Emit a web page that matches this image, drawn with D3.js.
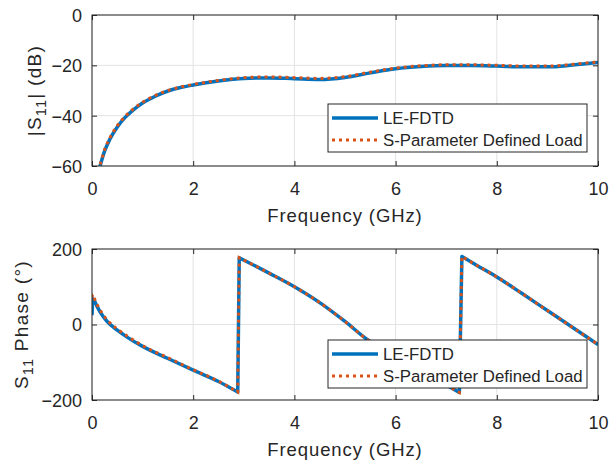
<!DOCTYPE html>
<html>
<head>
<meta charset="utf-8">
<script src="https://cdn.jsdelivr.net/npm/d3@7"></script>
<style>
  body { margin: 0; background: #fff; }
  svg { display: block; }
  text { font-family: "Liberation Sans", Arial, sans-serif; fill: #262626; }
</style>
</head>
<body>
<svg></svg>
<script>
const width = 610;
const height = 462;
const svg = d3.select("svg").attr("width", width).attr("height", height);

// magnitude data (GHz, dB)
const magFreq = [0.12, 0.16, 0.25, 0.35, 0.5, 0.65, 0.8, 1.0, 1.25, 1.5, 1.75, 2.0, 2.5, 3.0, 3.5, 4.0, 4.5, 5.0, 5.5, 6.0, 6.5, 7.0, 7.5, 8.0, 8.5, 9.0, 9.5, 10];
const magFdtd = [-63, -60, -54, -49.5, -44.5, -40.8, -38, -35, -32.3, -30.2, -28.8, -27.8, -26.2, -25.2, -25.0, -25.3, -25.6, -24.8, -23.0, -21.4, -20.5, -20.1, -20.1, -20.3, -20.6, -20.6, -19.9, -18.9];
const magSparam = [-62, -59.5, -53.5, -49, -44, -40.4, -37.6, -34.7, -32.0, -30.0, -28.6, -27.6, -26.0, -24.9, -24.6, -24.9, -25.2, -24.5, -22.7, -21.1, -20.2, -19.8, -19.8, -20.0, -20.3, -20.3, -19.6, -18.6];

// phase data (GHz, degrees)
const phaseFreq = [0, 0.02, 0.05, 0.1, 0.2, 0.3, 0.5, 0.7, 1.0, 1.5, 2.0, 2.5, 2.88, 2.91, 3.5, 4.0, 4.5, 5.0, 5.43, 6.0, 6.5, 7.0, 7.26, 7.31, 7.6, 8.0, 8.5, 9.0, 9.5, 10];
const phaseFdtd = [25, 68, 62, 48, 25, 8, -15, -34, -58, -90, -121, -151, -179, 177, 136, 100, 58, 8, -39, -85, -123, -160, -180, 180, 157, 126, 82, 37, -8, -53];
const phaseSparam = [72, 80, 68, 53, 30, 12, -12, -31, -56, -88, -120, -150, -179, 177, 136, 100, 58, 8, -39, -85, -123, -160, -180, 180, 157, 126, 82, 37, -8, -53];

const xTicks = [0, 2, 4, 6, 8, 10];
const magTicks = [-60, -40, -20, 0];
const phaseTicks = [-200, 0, 200];
const legendNames = ["LE-FDTD", "S-Parameter Defined Load"];

const blue = "#0072BD";
const orange = "#D95319";
const axisColor = "#262626";
const gridColor = "#e3e3e3";

const left = 92, right = 598;

// smooth each piece, but keep the phase wraps as straight vertical jumps
function wrappedPath(line, xs, ys) {
  const pieces = [];
  let cur = [];
  ys.forEach((v, i) => {
    if (i > 0 && Math.abs(v - ys[i - 1]) > 180) { pieces.push(cur); cur = []; }
    cur.push([xs[i], v]);
  });
  pieces.push(cur);
  return pieces.map((p, k) => {
    const d = line(p);
    return k === 0 ? d : "L" + d.slice(1);
  }).join("");
}

function drawPanel(cfg) {
  const x = d3.scaleLinear().domain([0, 10]).range([left, right]);
  const y = d3.scaleLinear().domain(cfg.yDomain).range([cfg.bottom, cfg.top]);
  const g = svg.append("g");

  const clipId = "clip" + cfg.id;
  svg.append("clipPath").attr("id", clipId)
    .append("rect")
    .attr("x", left).attr("y", cfg.top)
    .attr("width", right - left).attr("height", cfg.bottom - cfg.top);

  // grid
  g.selectAll(".gx").data(xTicks).join("line")
    .attr("x1", d => x(d)).attr("x2", d => x(d))
    .attr("y1", cfg.top).attr("y2", cfg.bottom)
    .attr("stroke", gridColor).attr("stroke-width", 1);
  g.selectAll(".gy").data(cfg.yTicks).join("line")
    .attr("x1", left).attr("x2", right)
    .attr("y1", d => y(d)).attr("y2", d => y(d))
    .attr("stroke", gridColor).attr("stroke-width", 1);

  // curves
  const line = d3.line()
    .x(d => x(d[0]))
    .y(d => y(d[1]))
    .curve(d3.curveMonotoneX);
  g.append("path")
    .attr("d", wrappedPath(line, cfg.xs, cfg.s1))
    .attr("clip-path", `url(#${clipId})`)
    .attr("fill", "none").attr("stroke", blue)
    .attr("stroke-width", 3.5).attr("stroke-linejoin", "round");
  g.append("path")
    .attr("d", wrappedPath(line, cfg.xs, cfg.s2))
    .attr("clip-path", `url(#${clipId})`)
    .attr("fill", "none").attr("stroke", orange)
    .attr("stroke-width", 3).attr("stroke-dasharray", "3,4");

  // axes (ticks inward, box on)
  const ax = g.append("g");
  ax.append("g").attr("transform", `translate(0,${cfg.bottom})`)
    .call(d3.axisBottom(x).tickValues(xTicks).tickSizeInner(-5).tickSizeOuter(0))
    .call(s => s.selectAll("text").attr("font-size", 18).attr("dy", null).attr("y", 28.5));
  ax.append("g").attr("transform", `translate(0,${cfg.top})`)
    .call(d3.axisTop(x).tickValues(xTicks).tickSizeInner(-5).tickSizeOuter(0).tickFormat(""));
  ax.append("g").attr("transform", `translate(${left},0)`)
    .call(d3.axisLeft(y).tickValues(cfg.yTicks).tickSizeInner(-5).tickSizeOuter(0))
    .call(s => s.selectAll("text").attr("font-size", 18).attr("x", -10).attr("dy", "0.36em"));
  ax.append("g").attr("transform", `translate(${right},0)`)
    .call(d3.axisRight(y).tickValues(cfg.yTicks).tickSizeInner(-5).tickSizeOuter(0).tickFormat(""));
  ax.selectAll(".domain").remove();
  ax.selectAll(".tick line").attr("stroke", axisColor);
  ax.selectAll(".tick text").attr("fill", axisColor).attr("font-family", "Liberation Sans, Arial, sans-serif");
  g.append("rect")
    .attr("x", left).attr("y", cfg.top)
    .attr("width", right - left).attr("height", cfg.bottom - cfg.top)
    .attr("fill", "none").attr("stroke", axisColor).attr("stroke-width", 1);

  // x label
  g.append("text")
    .attr("x", (left + right) / 2).attr("y", cfg.bottom + 56)
    .attr("text-anchor", "middle").attr("font-size", 18.5)
    .attr("letter-spacing", 0.9)
    .text("Frequency (GHz)");

  // y label
  const yl = g.append("text")
    .attr("transform", `translate(${cfg.yLabelX},${(cfg.top + cfg.bottom) / 2}) rotate(-90)`)
    .attr("text-anchor", "middle").attr("font-size", 19)
    .attr("letter-spacing", 1.3);
  yl.append("tspan").text(cfg.yLabel[0]);
  yl.append("tspan").attr("font-size", 14).attr("dy", 5).text("11");
  yl.append("tspan").attr("dy", -5).text(cfg.yLabel[1]);

  // legend
  const lg = g.append("g").attr("transform", `translate(${cfg.legend[0]},${cfg.legend[1]})`);
  lg.append("rect").attr("width", 259).attr("height", 48)
    .attr("fill", "#fff").attr("stroke", axisColor).attr("stroke-width", 1);
  legendNames.forEach((name, i) => {
    const cy = 14 + i * 22;
    lg.append("line").attr("x1", 4).attr("x2", 50).attr("y1", cy).attr("y2", cy)
      .attr("stroke", i === 0 ? blue : orange)
      .attr("stroke-width", i === 0 ? 3.5 : 3)
      .attr("stroke-dasharray", i === 0 ? null : "3,4");
    lg.append("text").attr("x", 55).attr("y", cy).attr("dy", "0.36em")
      .attr("font-size", 16.8).text(name);
  });
}

drawPanel({
  id: "mag", top: 15, bottom: 166, yDomain: [-60, 0], yTicks: magTicks,
  xs: magFreq, s1: magFdtd, s2: magSparam,
  yLabel: ["|S", "| (dB)"], yLabelX: 41, legend: [328, 104]
});
drawPanel({
  id: "phase", top: 249, bottom: 400, yDomain: [-200, 200], yTicks: phaseTicks,
  xs: phaseFreq, s1: phaseFdtd, s2: phaseSparam,
  yLabel: ["S", " Phase (°)"], yLabelX: 28, legend: [328, 340]
});
</script>
</body>
</html>
